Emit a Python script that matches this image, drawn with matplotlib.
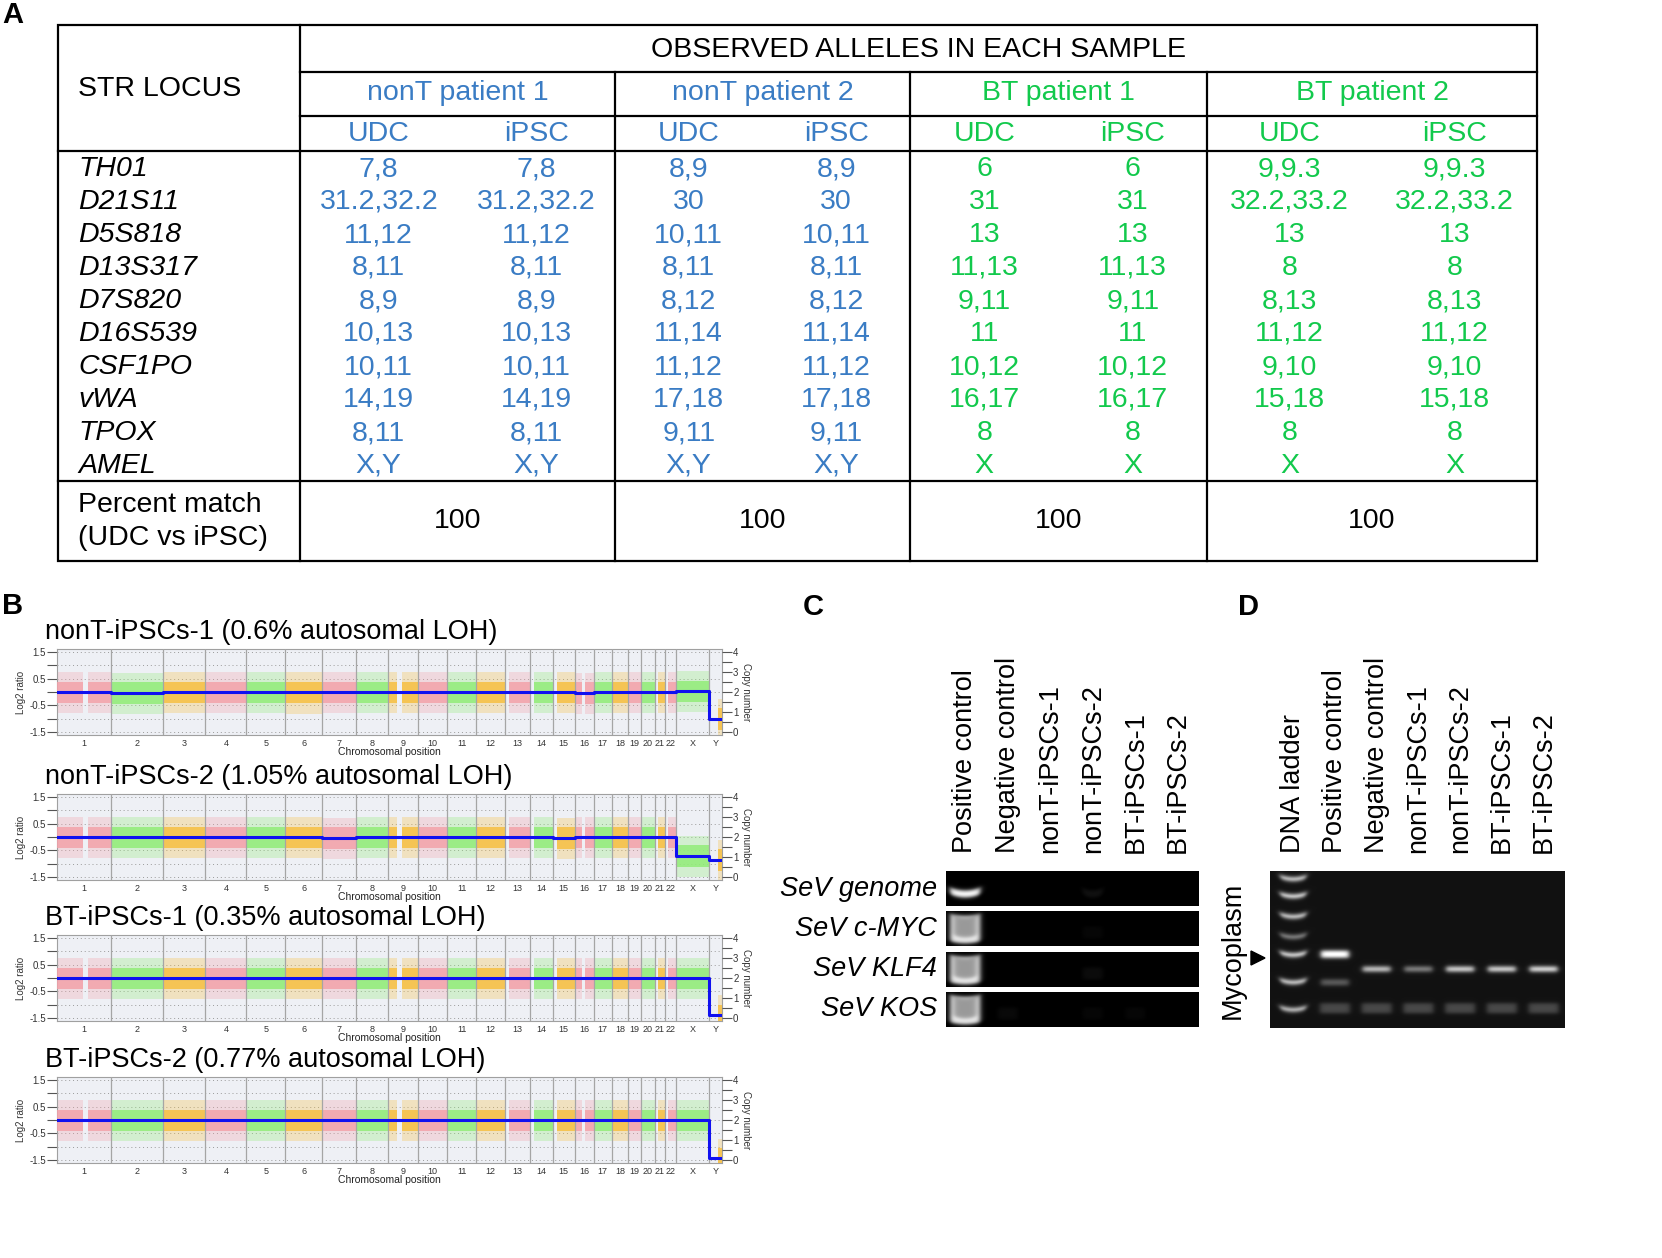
import numpy as np
import matplotlib
matplotlib.use("Agg")
import matplotlib.pyplot as plt
from matplotlib.patches import Rectangle, Polygon
from matplotlib.ticker import FixedLocator

plt.rcParams['font.family'] = ['Liberation Sans', 'DejaVu Sans']

# ------------------------------------------------------------------ data
str_loci = ["TH01", "D21S11", "D5S818", "D13S317", "D7S820", "D16S539",
            "CSF1PO", "vWA", "TPOX", "AMEL"]
patients = ["nonT patient 1", "nonT patient 2", "BT patient 1", "BT patient 2"]
sample_types = ["UDC", "iPSC"]
alleles_nonT1 = ["7,8", "31.2,32.2", "11,12", "8,11", "8,9", "10,13", "10,11", "14,19", "8,11", "X,Y"]
alleles_nonT2 = ["8,9", "30", "10,11", "8,11", "8,12", "11,14", "11,12", "17,18", "9,11", "X,Y"]
alleles_BT1 = ["6", "31", "13", "11,13", "9,11", "11", "10,12", "16,17", "8", "X"]
alleles_BT2 = ["9,9.3", "32.2,33.2", "13", "8", "8,13", "11,12", "9,10", "15,18", "8", "X"]
percent_match = [100, 100, 100, 100]

chrom_names = [str(i) for i in range(1, 23)] + ["X", "Y"]
chrom_len_mb = [249.3, 243.2, 198.0, 191.2, 180.9, 171.1, 159.1, 146.4, 141.2, 135.5,
                135.0, 133.9, 115.2, 107.3, 102.5, 90.4, 81.2, 78.1, 59.1, 63.0,
                48.1, 51.3, 155.3, 59.4]
# regions without probes (chromosome, start Mb, end Mb)
no_probe_regions = [("1", 121, 143), ("9", 44, 68), ("16", 35, 47), ("13", 0, 19),
                    ("14", 0, 20), ("15", 0, 20), ("21", 0, 14), ("22", 0, 16),
                    ("Y", 0, 40)]
cnv_titles = ["nonT-iPSCs-1 (0.6% autosomal LOH)", "nonT-iPSCs-2 (1.05% autosomal LOH)",
              "BT-iPSCs-1 (0.35% autosomal LOH)", "BT-iPSCs-2 (0.77% autosomal LOH)"]
log2_nonT1 = [0.0, -0.02, 0.0, 0.0, 0.0, -0.01, 0.0, 0.0, 0.0, 0.0, 0.0, 0.0,
              0.0, 0.0, 0.0, -0.02, 0.0, 0.0, 0.0, 0.0, 0.0, 0.0, 0.05, -1.0]
log2_nonT2 = [0.0, 0.0, 0.0, 0.0, 0.0, 0.0, -0.02, 0.0, 0.0, 0.0, 0.0, 0.0,
              0.0, 0.0, -0.02, 0.0, 0.0, 0.0, 0.0, 0.0, 0.0, 0.0, -0.7, -0.85]
log2_BT1 = [0.0, 0.0, 0.0, 0.0, 0.0, 0.0, 0.0, 0.0, 0.0, 0.0, 0.0, 0.0,
            0.0, 0.0, 0.0, 0.0, 0.0, 0.0, 0.0, 0.0, 0.0, 0.0, 0.0, -1.4]
log2_BT2 = [0.0, 0.0, 0.0, 0.0, 0.0, 0.0, 0.0, 0.0, 0.0, 0.0, 0.0, 0.0,
            0.0, 0.0, 0.0, 0.0, 0.0, 0.0, 0.0, 0.0, 0.0, 0.0, 0.0, -1.45]

sev_targets = ["SeV genome", "SeV c-MYC", "SeV KLF4", "SeV KOS"]
lanes_C = ["Positive control", "Negative control", "nonT-iPSCs-1", "nonT-iPSCs-2",
           "BT-iPSCs-1", "BT-iPSCs-2"]
sev_band_intensity = [[1.0, 0.0, 0.0, 0.07, 0.0, 0.0],
                      [1.0, 0.0, 0.0, 0.03, 0.0, 0.0],
                      [1.0, 0.0, 0.0, 0.05, 0.0, 0.0],
                      [1.0, 0.04, 0.0, 0.03, 0.03, 0.0]]

lanes_D = ["DNA ladder", "Positive control", "Negative control", "nonT-iPSCs-1",
           "nonT-iPSCs-2", "BT-iPSCs-1", "BT-iPSCs-2"]
ladder_rf = [0.05, 0.16, 0.29, 0.42, 0.535, 0.71, 0.885]
ladder_int = [0.75, 0.8, 0.75, 0.45, 0.8, 0.75, 0.7]
myco_rf = 0.53        # positive control (mycoplasma) band
internal_rf = 0.625   # internal control band
sample_band_int = [1.0, 0.72, 0.45, 0.78, 0.78, 0.82]

# ------------------------------------------------------------------ figure
W, H = 1662, 1258
fig = plt.figure(figsize=(W / 100, H / 100), dpi=100)
cv = fig.add_axes([0, 0, 1, 1])
cv.set_xlim(0, W)
cv.set_ylim(H, 0)
cv.axis('off')

BLUE = '#3a7cc4'
GREEN = '#12c94c'
FS = 20.5
LFS = 21

# ------------------------------------------------------------------ panel A
cv.text(2, 15, "A", fontsize=LFS, fontweight='bold', va='center')
xl, xd, xr = 58, 300, 1537
pat_bounds = [300, 615, 910, 1207, 1537]
yt, y1, y2, y3, y4, yb = 25, 72, 116, 151, 481, 561
lw = 1.6
cv.add_patch(Rectangle((xl, yt), xr - xl, yb - yt, fill=False, lw=lw, ec='k'))
cv.plot([xd, xd], [yt, yb], 'k', lw=lw)
cv.plot([xd, xr], [y1, y1], 'k', lw=lw)
cv.plot([xd, xr], [y2, y2], 'k', lw=lw)
cv.plot([xl, xr], [y3, y3], 'k', lw=lw)
cv.plot([xl, xr], [y4, y4], 'k', lw=lw)
for xb in pat_bounds[1:-1]:
    cv.plot([xb, xb], [y1, yb], 'k', lw=lw)
cv.text((xd + xr) / 2, 50, "OBSERVED ALLELES IN EACH SAMPLE", fontsize=FS, ha='center', va='center')
cv.text(78, 89, "STR LOCUS", fontsize=FS, ha='left', va='center')
cols = [alleles_nonT1, alleles_nonT2, alleles_BT1, alleles_BT2]
colors = [BLUE, BLUE, GREEN, GREEN]
for p, name in enumerate(patients):
    a, b = pat_bounds[p], pat_bounds[p + 1]
    mid = (a + b) / 2
    cv.text(mid, 93, name, fontsize=FS, ha='center', va='center', color=colors[p])
    for k, st in enumerate(sample_types):
        cx = a + (b - a) * (0.25 + 0.5 * k)
        cv.text(cx, 134, st, fontsize=FS, ha='center', va='center', color=colors[p])
        for i, v in enumerate(cols[p]):
            cv.text(cx, 169 + 33 * i, v, fontsize=FS, ha='center', va='center', color=colors[p])
    cv.text(mid, 521, str(percent_match[p]), fontsize=FS, ha='center', va='center')
for i, loc in enumerate(str_loci):
    cv.text(78, 169 + 33 * i, loc, fontsize=FS, ha='left', va='center', style='italic')
cv.text(78, 505, "Percent match", fontsize=FS, ha='left', va='center')
cv.text(78, 538, "(UDC vs iPSC)", fontsize=FS, ha='left', va='center')

# ------------------------------------------------------------------ panel B
cv.text(2, 606, "B", fontsize=LFS, fontweight='bold', va='center')
starts = np.concatenate([[0], np.cumsum(chrom_len_mb)[:-1]])
ends = np.cumsum(chrom_len_mb)
total = ends[-1]
mids = (starts + ends) / 2
band_cols = ['#f3a2aa', '#92ec78', '#f7bf42']
gap_map = {}
for c, s, e in no_probe_regions:
    gap_map.setdefault(c, []).append((s, e))

series = [log2_nonT1, log2_nonT2, log2_BT1, log2_BT2]
tops = [649, 794, 935, 1077]
ax_l, ax_w, ax_h = 57, 665, 86
YL = 1.62
for k in range(4):
    top = tops[k]
    ax = fig.add_axes([ax_l / W, 1 - (top + ax_h) / H, ax_w / W, ax_h / H])
    ax.set_facecolor('#eef0f5')
    ax.set_xlim(0, total)
    ax.set_ylim(-YL, YL)
    vals = series[k]
    for yy in [1.5, 1.0, 0.5, 0.0, -0.5, -1.0, -1.5]:
        ax.axhline(yy, color='#9a9a9a', lw=0.7, ls=(0, (1, 3)), zorder=1)
    for ci, name in enumerate(chrom_names):
        s0, e0 = starts[ci], ends[ci]
        segs = [(s0, e0)]
        for gs, ge in gap_map.get(name, []):
            new = []
            for a, b in segs:
                if a < gs + s0:
                    new.append((a, min(b, gs + s0)))
                if b > ge + s0:
                    new.append((max(a, ge + s0), b))
            segs = new
        col = band_cols[ci % 3]
        v = vals[ci]
        for a, b in segs:
            if b <= a:
                continue
            ax.add_patch(Rectangle((a, v - 0.8), b - a, 1.55, color=col, alpha=0.3, lw=0, zorder=2))
            ax.add_patch(Rectangle((a, v - 0.42), b - a, 0.8, color=col, alpha=0.85, lw=0, zorder=3))
    xs, ys = [], []
    for ci in range(len(chrom_names)):
        xs += [starts[ci], ends[ci]]
        ys += [vals[ci], vals[ci]]
    ax.plot(xs, ys, color='#1010f0', lw=2.2, zorder=5)
    for e in ends[:-1]:
        ax.axvline(e, color='#a5a5a5', lw=0.9, zorder=4)
    for sp in ax.spines.values():
        sp.set_color('#a0a0a0')
        sp.set_linewidth(0.8)
    ax.yaxis.set_major_locator(FixedLocator([1.5, 0.5, -0.5, -1.5]))
    ax.yaxis.set_minor_locator(FixedLocator([1.0, 0.0, -1.0]))
    ax.set_yticklabels(["1.5", "0.5", "-0.5", "-1.5"])
    ax.tick_params(axis='y', which='both', direction='out', length=7, width=0.8,
                   color='#555555', labelsize=7, pad=1, labelcolor='#333333')
    ax.set_xticks(mids)
    ax.set_xticklabels(chrom_names)
    ax.tick_params(axis='x', length=0, labelsize=6.5, pad=3, labelcolor='#333333')
    ax.set_xlabel("Chromosomal position", fontsize=7.5, labelpad=-1, color='#222222')
    ax.set_ylabel("Log2 ratio", fontsize=7, labelpad=2, color='#333333')
    ax2 = ax.twinx()
    ax2.set_ylim((-YL + 1.5) / 3 * 4, (YL + 1.5) / 3 * 4)
    ax2.yaxis.set_major_locator(FixedLocator([0, 1, 2, 3, 4]))
    ax2.yaxis.set_minor_locator(FixedLocator([0.5, 1.5, 2.5, 3.5]))
    ax2.tick_params(axis='y', which='both', direction='out', length=7, width=0.8,
                    color='#555555', labelsize=7, pad=1, labelcolor='#333333')
    for sp in ax2.spines.values():
        sp.set_visible(False)
    ax2.set_ylabel("Copy number", fontsize=7, rotation=270, labelpad=9, color='#333333')
    cv.text(45, top - 17, cnv_titles[k], fontsize=19.5, ha='left', va='center')

# ------------------------------------------------------------------ gels
def gel(x0, x1, y0, y1, bands, bg):
    nx, ny = int(x1 - x0) * 2, int(y1 - y0) * 2
    gx = np.linspace(x0, x1, nx)[None, :]
    gy = np.linspace(y0, y1, ny)[:, None]
    img = np.full((ny, nx), bg)
    for cx, cy, hw, hh, inten, curve in bands:
        cyy = cy - curve * ((gx - cx) / hw) ** 2
        sx = 1 / (1 + np.exp(-(hw - np.abs(gx - cx)) / 1.5))
        sy = 1 / (1 + np.exp(-(hh - np.abs(gy - cyy)) / 1.1))
        img = img + inten * sx * sy
    cv.imshow(np.clip(img, 0, 1), cmap='gray', vmin=0, vmax=1, extent=(x0, x1, y1, y0),
              interpolation='bilinear', aspect='auto', zorder=2)

GFS = 19.5
# panel C
cv.text(803, 607, "C", fontsize=LFS, fontweight='bold', va='center')
cx0, cdx = 965, 42.6
for i, lane in enumerate(lanes_C):
    cv.text(cx0 + i * cdx, 853, lane, fontsize=GFS, rotation=90, ha='center', va='bottom')
strips = [(871, 906), (911, 946), (952, 987), (992, 1027)]
for r, (sa, sb) in enumerate(strips):
    bands = []
    for i in range(len(lanes_C)):
        inten = sev_band_intensity[r][i]
        if inten <= 0:
            continue
        lx = cx0 + i * cdx
        if r == 0:
            bands.append((lx, sb - 12, 15 if i == 0 else 10, 3.5, inten, 3))
        elif i == 0:
            bands.append((lx, (sa + sb) / 2 + 1, 15, 14, inten * 0.95, 2))
            bands.append((lx, (sa + sb) / 2 - 1, 11, 10, -0.35, 2))
        else:
            bands.append((lx, (sa + sb) / 2 + 4, 10, 6, inten, 0))
    gel(946, 1199, sa, sb, bands, 0.0)
    cv.text(937, (sa + sb) / 2, sev_targets[r], fontsize=GFS, style='italic', ha='right', va='center')

# panel D
cv.text(1238, 607, "D", fontsize=LFS, fontweight='bold', va='center')
dx0, ddx = 1293, 41.8
gx0, gx1, gy0, gy1 = 1270, 1565, 871, 1028
for i, lane in enumerate(lanes_D):
    cv.text(dx0 + i * ddx, 853, lane, fontsize=GFS, rotation=90, ha='center', va='bottom')
gh = gy1 - gy0
dbands = []
for rf, it in zip(ladder_rf, ladder_int):
    dbands.append((dx0, gy0 + rf * gh, 13, 2.2, it, 2.5))
dbands.append((dx0 + ddx, gy0 + myco_rf * gh, 14, 3.5, 1.0, 0))
dbands.append((dx0 + ddx, gy0 + 0.71 * gh, 14, 3, 0.3, 0))
for j in range(1, len(sample_band_int)):
    dbands.append((dx0 + (j + 1) * ddx, gy0 + internal_rf * gh, 14, 2.6, sample_band_int[j], 0))
for j in range(1, len(lanes_D)):
    dbands.append((dx0 + j * ddx, gy0 + 0.875 * gh, 15, 5, 0.22, 0))
gel(gx0, gx1, gy0, gy1, dbands, 0.07)
cv.add_patch(Polygon([(1251, 951), (1251, 965), (1265, 958)], closed=True, color='k', zorder=3))
cv.text(1233, 950, "Mycoplasm", fontsize=GFS, rotation=90, ha='center', va='center')

cv.set_xlim(0, W)
cv.set_ylim(H, 0)
fig.savefig("out.png", dpi=100)
